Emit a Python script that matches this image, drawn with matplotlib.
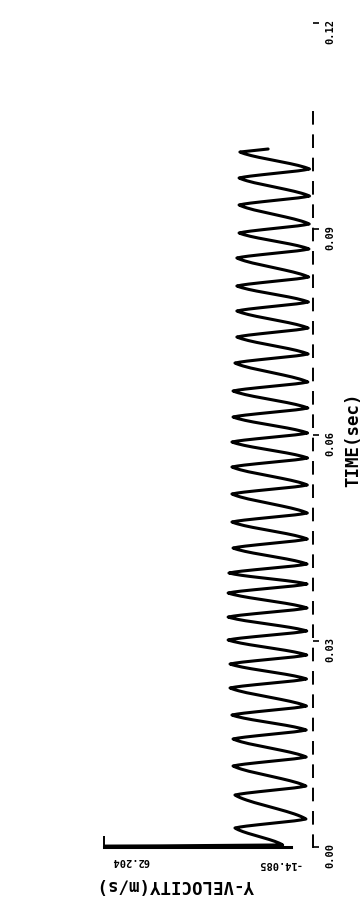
import numpy as np
import matplotlib
matplotlib.use("Agg")
import matplotlib.pyplot as plt

# ---------------- data ----------------
TIME_TICKS = [0.00, 0.03, 0.06, 0.09, 0.12]
TIME_TICK_LABELS = ["0.00", "0.03", "0.06", "0.09", "0.12"]
V_MIN, V_MAX = -14.085, 62.204
V_TICK_LABELS = ["-14.085", "62.204"]
X_LABEL = "TIME(sec)"
Y_LABEL = "Y-VELOCITY(m/s)"

# initial transient (spike at t = 0)
t_start = [0.0, 0.0001, 0.0003]
v_start = [-3.0, 62.204, -3.0]

# velocity maxima (peaks)
t_peak = [0.00277, 0.00757, 0.01180, 0.01573, 0.01922, 0.02316, 0.02665,
          0.03015, 0.03349, 0.03699, 0.03990, 0.04354, 0.04733, 0.05141,
          0.05534, 0.05898, 0.06262, 0.06641, 0.07048, 0.07427, 0.07806,
          0.08170, 0.08578, 0.08942, 0.09350, 0.09743, 0.10121]
v_peak = [14.4, 14.4, 15.1, 15.1, 15.5, 16.2, 16.2,
          16.9, 16.9, 16.9, 16.6, 15.1, 15.5, 15.5,
          15.5, 15.5, 15.1, 15.1, 14.4, 13.7, 13.7,
          13.7, 13.7, 12.9, 12.9, 12.9, 12.6]

# velocity minima (troughs)
t_trough = [0.00408, 0.00888, 0.01311, 0.01704, 0.02053, 0.02447, 0.02796,
            0.03146, 0.03481, 0.03830, 0.04121, 0.04485, 0.04864, 0.05272,
            0.05665, 0.06029, 0.06393, 0.06772, 0.07180, 0.07558, 0.07937,
            0.08301, 0.08709, 0.09073, 0.09480, 0.09874]
v_trough = [-11.5, -11.5, -11.6, -11.6, -11.7, -11.7, -11.8,
            -11.8, -11.9, -11.9, -11.9, -12.0, -12.0, -12.0,
            -12.1, -12.1, -12.2, -12.2, -12.3, -12.3, -12.4,
            -12.5, -12.6, -12.7, -12.8, -12.8]

# last point of the record
t_end = [0.10165]
v_end = [2.3]

# ---------------- build the curve ----------------
ext_t, ext_v = [], []
for i in range(len(t_peak)):
    ext_t.append(t_peak[i]); ext_v.append(v_peak[i])
    if i < len(t_trough):
        ext_t.append(t_trough[i]); ext_v.append(v_trough[i])

T = list(t_start)
V = list(v_start)
# smooth drawing between successive extrema (slightly pointed tips)
pts_t = [t_start[-1]] + ext_t
pts_v = [v_start[-1]] + ext_v
s = np.linspace(0, 1, 20)[1:]
w = 0.55 * s + 0.45 * (1 - np.cos(np.pi * s)) / 2
for a in range(len(pts_t) - 1):
    T.extend(pts_t[a] + (pts_t[a + 1] - pts_t[a]) * s)
    V.extend(pts_v[a] + (pts_v[a + 1] - pts_v[a]) * w)
# final partial fall
s2 = np.linspace(0, 1, 8)[1:]
T.extend(pts_t[-1] + (t_end[0] - pts_t[-1]) * s2)
V.extend(pts_v[-1] + (v_end[0] - pts_v[-1]) * s2)

# ---------------- figure ----------------
W, H = 363, 907
fig = plt.figure(figsize=(W / 100, H / 100), dpi=100)
fig.patch.set_facecolor("white")

x_left, x_right = 104, 313      # pixel positions of V_MAX / V_MIN
y_bot, y_top = 847, 23          # pixel positions of t=0 / t=0.12
ax = fig.add_axes([x_left / W, 1 - y_bot / H,
                   (x_right - x_left) / W, (y_bot - y_top) / H])
ax.set_facecolor("none")

ax.plot(V, T, color="black", lw=2.2, solid_joinstyle="round",
        solid_capstyle="round", zorder=3)

ax.set_xlim(V_MAX, V_MIN)
ax.set_ylim(TIME_TICKS[0], TIME_TICKS[-1])

for sp in ["left", "top"]:
    ax.spines[sp].set_visible(False)
ax.spines["right"].set_linestyle((0, (6, 6)))
ax.spines["right"].set_linewidth(1.4)
ax.spines["right"].set_bounds(0.0, 0.107)
ax.spines["bottom"].set_linewidth(2.2)
ax.spines["bottom"].set_bounds(V_MAX, -6.0)

mono = "DejaVu Sans Mono"

# time axis (right spine in this rotated layout)
ax.yaxis.tick_right()
ax.set_yticks(TIME_TICKS)
ax.set_yticklabels(TIME_TICK_LABELS, family=mono, fontsize=7.5,
                   fontweight="bold")
ax.tick_params(axis="y", which="major", direction="out", length=4,
               width=1.2, pad=5, labelrotation=90)

# velocity axis (bottom spine)
ax.set_xticks([V_MAX])
ax.set_xticklabels([])
ax.tick_params(axis="x", which="major", direction="in", length=8,
               width=1.4)

ax.annotate(V_TICK_LABELS[1], xy=(V_MAX, 0), xycoords=("data", "axes fraction"),
            xytext=(8, -14), textcoords="offset pixels", rotation=180,
            ha="left", va="center", family=mono, fontsize=7.5,
            fontweight="bold")
ax.annotate(V_TICK_LABELS[0], xy=(V_MIN, 0), xycoords=("data", "axes fraction"),
            xytext=(-12, -17), textcoords="offset pixels", rotation=180,
            ha="right", va="center", family=mono, fontsize=7.5,
            fontweight="bold")

fig.text(353 / W, 1 - 440 / H, X_LABEL, rotation=90, ha="center",
         va="center", family=mono, fontsize=12.5, fontweight="bold")
fig.text(175 / W, 1 - 885 / H, Y_LABEL, rotation=180, ha="center",
         va="center", family=mono, fontsize=12.5, fontweight="bold")

fig.savefig("out.png", dpi=100, facecolor="white")
